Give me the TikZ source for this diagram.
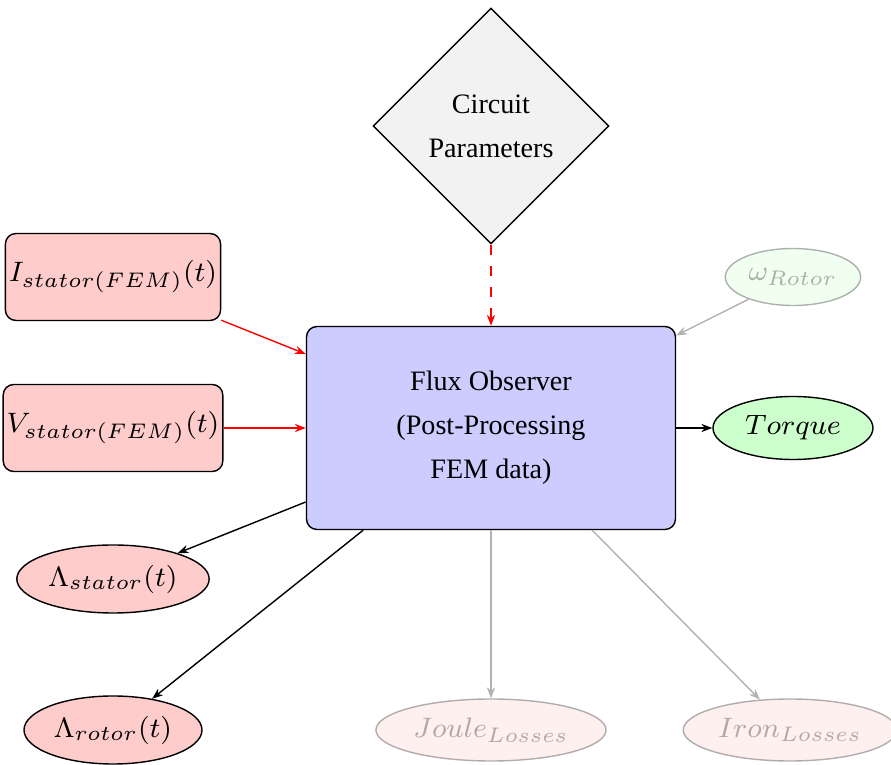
\documentclass[tikz,border=0pt]{standalone}
\usepackage{amsmath,amssymb}
\usepackage{fontspec}
\setmainfont{Liberation Serif}
\usepackage{xcolor}
\usepackage{tikz}
\usetikzlibrary{positioning,arrows.meta,shapes.geometric}
\definecolor{obsblue}{RGB}{204,204,255}
\definecolor{inred}{RGB}{255,204,204}
\definecolor{outgreen}{RGB}{204,255,204}
\definecolor{pargray}{RGB}{242,242,242}
\tikzset{
  base/.style={draw, thin, align=center, font=\fontsize{8}{12.5}\selectfont},
  inbox/.style={base, rounded corners=3pt, fill=inred, minimum width=2.06cm,
                minimum height=0.87cm, inner sep=1pt},
  obsbox/.style={base, rounded corners=3pt, fill=obsblue, minimum width=3.69cm,
                 minimum height=2.03cm},
  parbox/.style={base, diamond, aspect=1, fill=pargray, minimum size=2.36cm,
                 inner sep=0pt},
  outell/.style={base, ellipse, inner sep=1pt, minimum height=0.68cm},
  redell/.style={outell, fill=inred},
  greenell/.style={outell, fill=outgreen},
  faded/.style={opacity=0.3},
  arrow/.style={-{Stealth[length=1.1mm]}, thin},
  redarrow/.style={arrow, red},
  grayarrow/.style={arrow, gray!60},
}

\begin{document}
\begin{tikzpicture}[node distance=1.51cm and 3.78cm, on grid]
  \useasboundingbox (-4.91,4.28) rectangle (4.00,-3.37);

  \node[obsbox]                              (obs)   {Flux Observer\\(Post-Processing\\FEM data)};
  \node[parbox, above=3.02cm of obs]         (par)   {Circuit\\Parameters};
  \node[inbox, above left=of obs]            (istat) {$I_{stator(FEM)}(t)$};
  \node[inbox, left=of obs]                  (vstat) {$V_{stator(FEM)}(t)$};
  \node[redell, minimum width=1.90cm, below left=of obs]  (lstat) {$\Lambda_{stator}(t)$};
  \node[redell, minimum width=1.78cm, below left=3.02cm and 3.78cm of obs] (lrot) {$\Lambda_{rotor}(t)$};
  \node[greenell, minimum width=1.60cm, minimum height=0.63cm, right=3.02cm of obs] (torq) {$Torque$};
  \node[greenell, faded, minimum width=1.35cm, minimum height=0.57cm,
        above right=1.51cm and 3.02cm of obs]  (wrot)  {$\omega_{Rotor}$};
  \node[redell, faded, minimum width=2.29cm, minimum height=0.62cm,
        below=3.02cm of obs]                   (joule) {$Joule_{Losses}$};
  \node[redell, faded, minimum width=2.03cm, minimum height=0.62cm,
        below right=3.02cm and 2.99cm of obs]  (iron)  {$Iron_{Losses}$};

  \draw[redarrow] (istat) -- (obs);
  \draw[redarrow] (vstat) -- (obs);
  \draw[redarrow, dashed] (par) -- (obs);
  \draw[grayarrow] (wrot) -- (obs);
  \draw[arrow] (obs) -- (torq);
  \draw[arrow] (obs) -- (lstat);
  \draw[arrow] (obs) -- (lrot);
  \draw[grayarrow] (obs) -- (joule);
  \draw[grayarrow] (obs) -- (iron);
\end{tikzpicture}
\end{document}
